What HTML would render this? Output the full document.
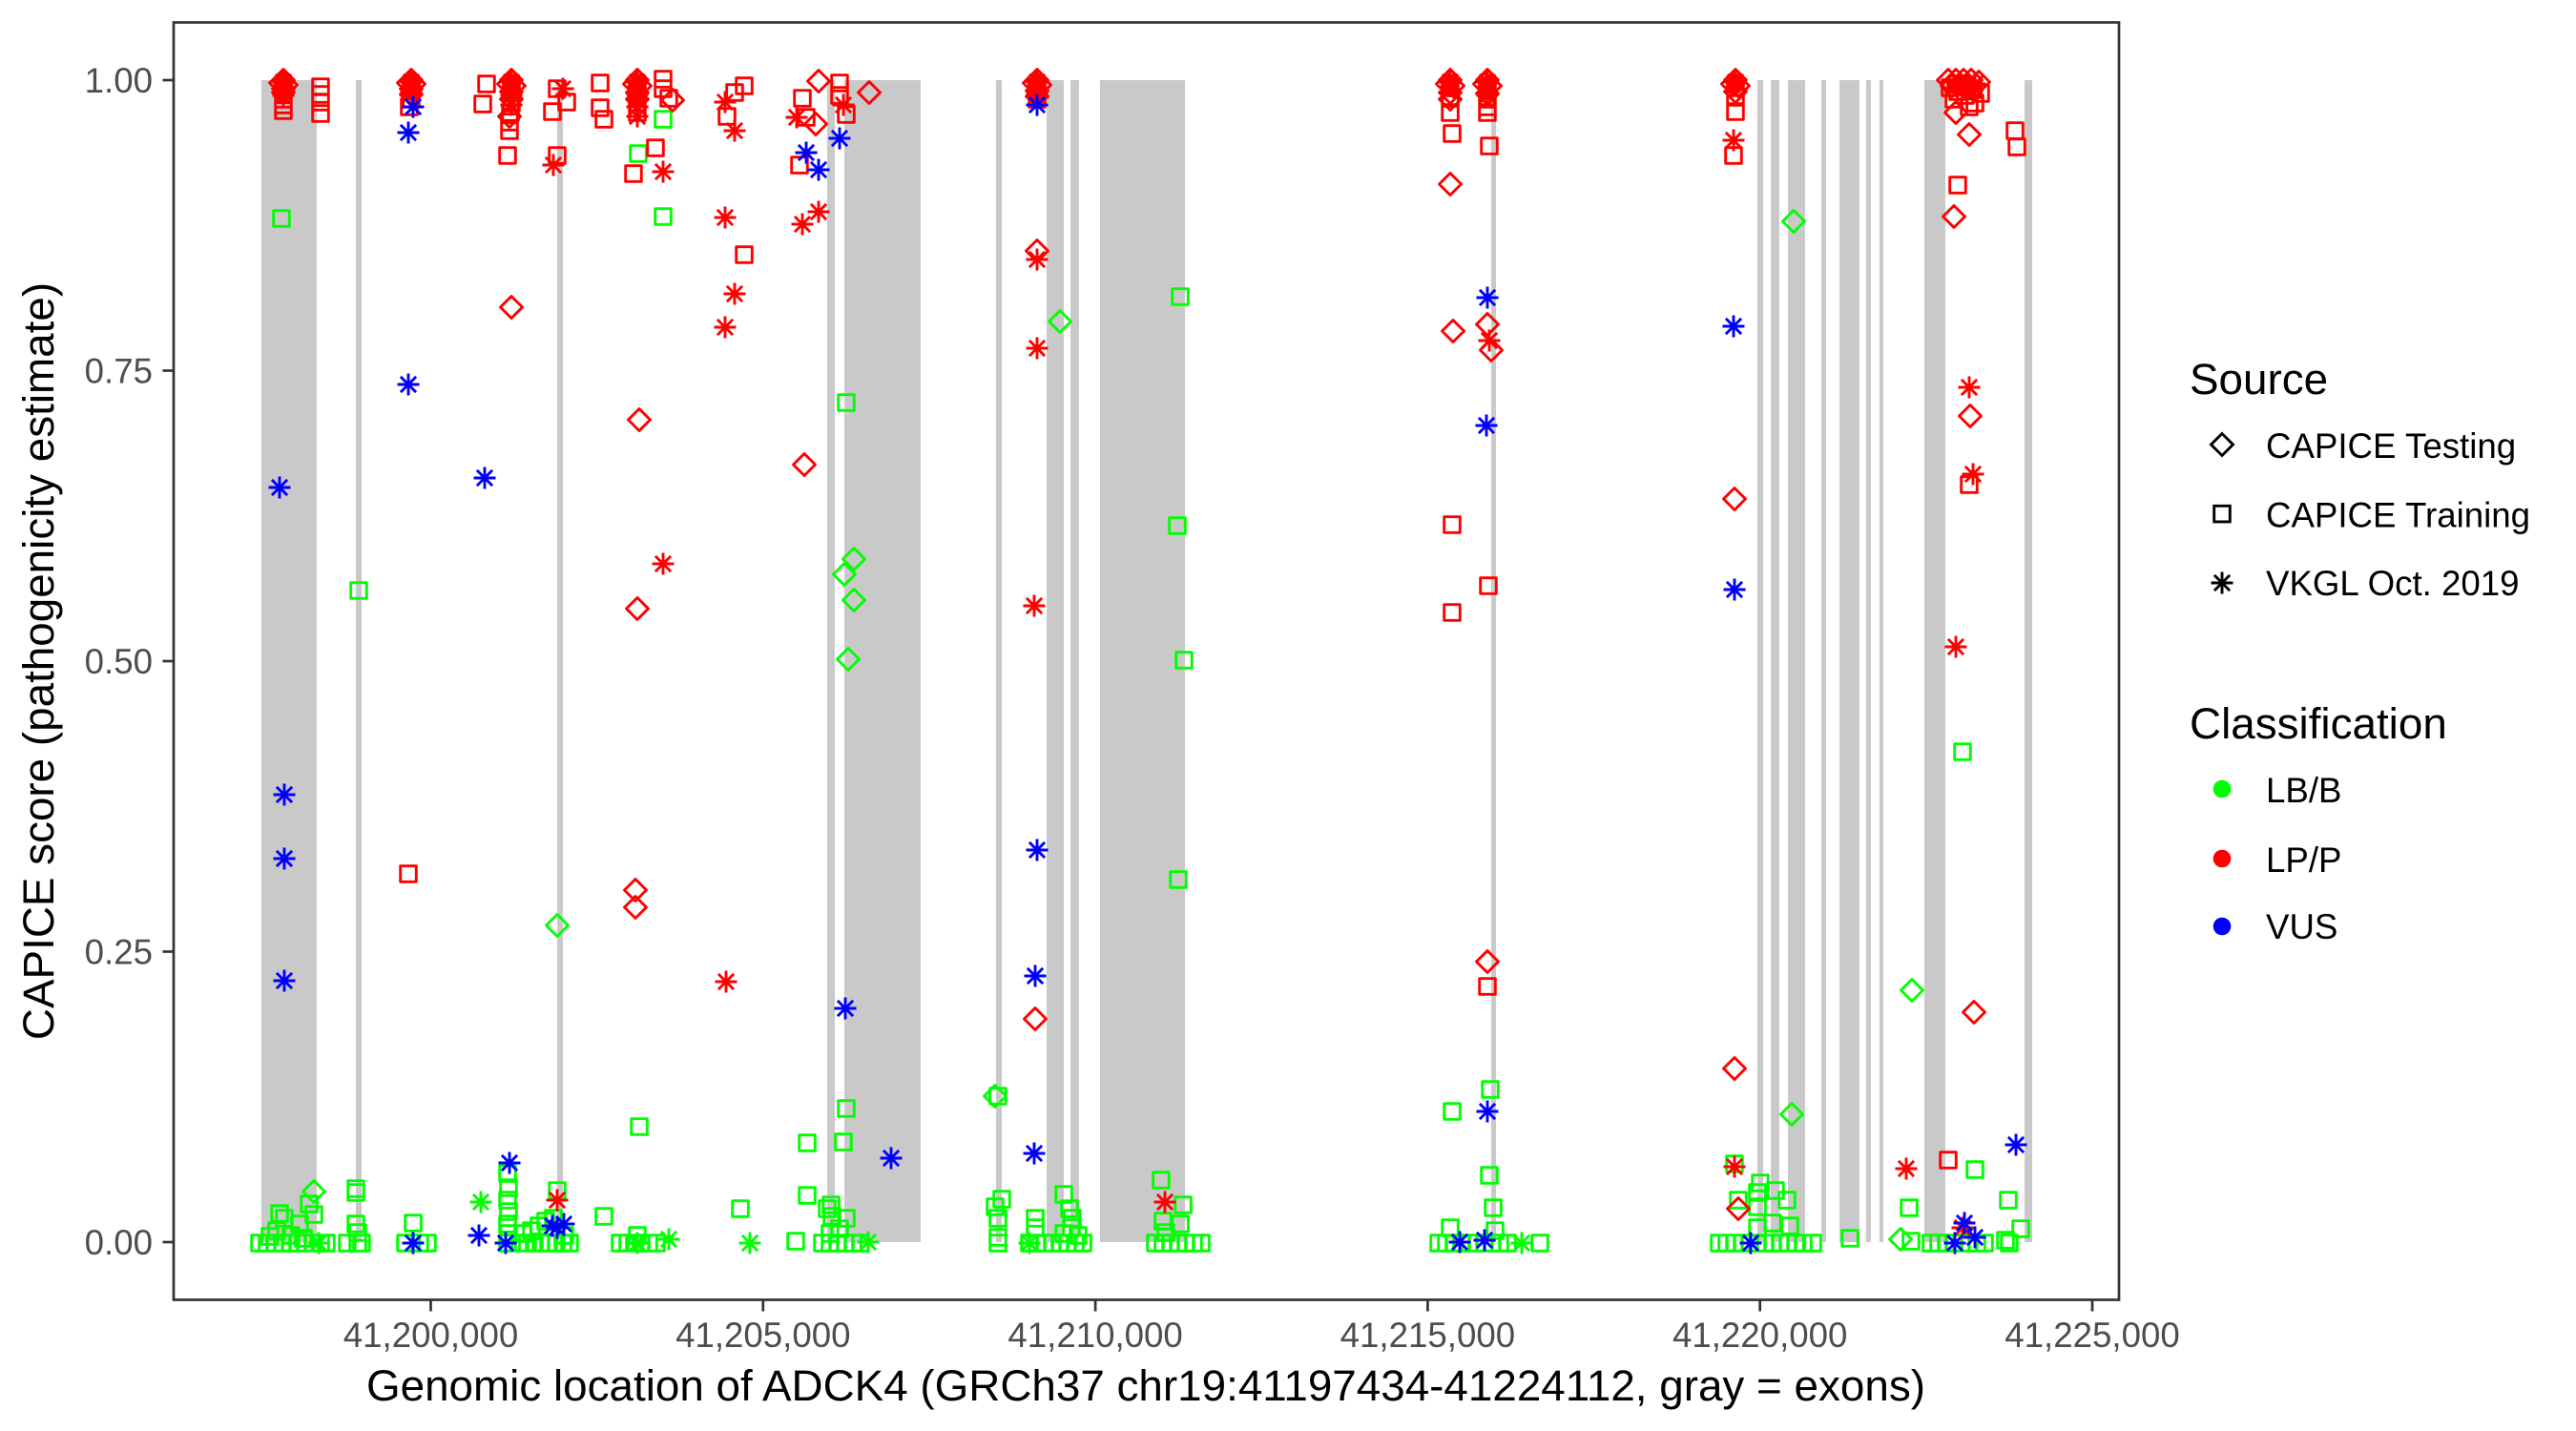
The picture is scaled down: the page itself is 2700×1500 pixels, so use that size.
<!DOCTYPE html>
<html><head><meta charset="utf-8"><style>
html,body{margin:0;padding:0;background:#fff}
svg{display:block}
text{font-family:"Liberation Sans",Arial,sans-serif}
</style></head><body>
<svg width="2700" height="1500" viewBox="0 0 2700 1500" xmlns="http://www.w3.org/2000/svg">
<rect x="0" y="0" width="2700" height="1500" fill="#fff"/>
<!-- exon bands -->
<g fill="#c9c9c9">
<rect x="274" y="84" width="58" height="1218"/>
<rect x="373" y="84" width="6" height="1218"/>
<rect x="584" y="84" width="6" height="1218"/>
<rect x="867" y="84" width="8" height="1218"/>
<rect x="885" y="84" width="80" height="1218"/>
<rect x="1044" y="84" width="6" height="1218"/>
<rect x="1097" y="84" width="18" height="1218"/>
<rect x="1122" y="84" width="9" height="1218"/>
<rect x="1153" y="84" width="89" height="1218"/>
<rect x="1563" y="84" width="5" height="1218"/>
<rect x="1842" y="84" width="6" height="1218"/>
<rect x="1856" y="84" width="9" height="1218"/>
<rect x="1874" y="84" width="18" height="1218"/>
<rect x="1909" y="84" width="5" height="1218"/>
<rect x="1928" y="84" width="21" height="1218"/>
<rect x="1956" y="84" width="5" height="1218"/>
<rect x="1970" y="84" width="4" height="1218"/>
<rect x="2017" y="84" width="22" height="1218"/>
<rect x="2122" y="84" width="8" height="1218"/>
</g>
<g fill="none" stroke-width="2.9" stroke-linejoin="round">
<!-- green squares -->
<path stroke="#00ff00" d="M295 229m-8.3-8.3h16.6v16.6h-16.6z M695 125m-8.3-8.3h16.6v16.6h-16.6z M669 161m-8.3-8.3h16.6v16.6h-16.6z M695 227m-8.3-8.3h16.6v16.6h-16.6z M887 422m-8.3-8.3h16.6v16.6h-16.6z M376 619m-8.3-8.3h16.6v16.6h-16.6z M1237 311m-8.3-8.3h16.6v16.6h-16.6z M1234 551m-8.3-8.3h16.6v16.6h-16.6z M1241 692m-8.3-8.3h16.6v16.6h-16.6z M1235 922m-8.3-8.3h16.6v16.6h-16.6z M2057 788m-8.3-8.3h16.6v16.6h-16.6z M1562 1142m-8.3-8.3h16.6v16.6h-16.6z M1046 1149m-8.3-8.3h16.6v16.6h-16.6z M887 1162m-8.3-8.3h16.6v16.6h-16.6z
M272 1303m-8.3-8.3h16.6v16.6h-16.6z M280 1303m-8.3-8.3h16.6v16.6h-16.6z M288 1303m-8.3-8.3h16.6v16.6h-16.6z M296 1303m-8.3-8.3h16.6v16.6h-16.6z M304 1303m-8.3-8.3h16.6v16.6h-16.6z M312 1303m-8.3-8.3h16.6v16.6h-16.6z M320 1303m-8.3-8.3h16.6v16.6h-16.6z M328 1303m-8.3-8.3h16.6v16.6h-16.6z M336 1303m-8.3-8.3h16.6v16.6h-16.6z M342 1303m-8.3-8.3h16.6v16.6h-16.6z
M293 1272m-8.3-8.3h16.6v16.6h-16.6z M298 1277m-8.3-8.3h16.6v16.6h-16.6z M314 1283m-8.3-8.3h16.6v16.6h-16.6z M324 1262m-8.3-8.3h16.6v16.6h-16.6z M329 1273m-8.3-8.3h16.6v16.6h-16.6z M290 1290m-8.3-8.3h16.6v16.6h-16.6z M305 1295m-8.3-8.3h16.6v16.6h-16.6z M318 1298m-8.3-8.3h16.6v16.6h-16.6z M283 1296m-8.3-8.3h16.6v16.6h-16.6z
M373 1246m-8.3-8.3h16.6v16.6h-16.6z M373 1250m-8.3-8.3h16.6v16.6h-16.6z M373 1283m-8.3-8.3h16.6v16.6h-16.6z M375 1292m-8.3-8.3h16.6v16.6h-16.6z M364 1303m-8.3-8.3h16.6v16.6h-16.6z M375 1303m-8.3-8.3h16.6v16.6h-16.6z M379 1303m-8.3-8.3h16.6v16.6h-16.6z
M433 1282m-8.3-8.3h16.6v16.6h-16.6z M425 1303m-8.3-8.3h16.6v16.6h-16.6z M440 1303m-8.3-8.3h16.6v16.6h-16.6z M448 1303m-8.3-8.3h16.6v16.6h-16.6z
M532 1230m-8.3-8.3h16.6v16.6h-16.6z M533 1245m-8.3-8.3h16.6v16.6h-16.6z M532 1258m-8.3-8.3h16.6v16.6h-16.6z M533 1270m-8.3-8.3h16.6v16.6h-16.6z M532 1283m-8.3-8.3h16.6v16.6h-16.6z M533 1293m-8.3-8.3h16.6v16.6h-16.6z M532 1303m-8.3-8.3h16.6v16.6h-16.6z
M545 1303m-8.3-8.3h16.6v16.6h-16.6z M553 1303m-8.3-8.3h16.6v16.6h-16.6z M560 1303m-8.3-8.3h16.6v16.6h-16.6z M567 1303m-8.3-8.3h16.6v16.6h-16.6z M575 1303m-8.3-8.3h16.6v16.6h-16.6z M583 1303m-8.3-8.3h16.6v16.6h-16.6z M590 1303m-8.3-8.3h16.6v16.6h-16.6z M597 1303m-8.3-8.3h16.6v16.6h-16.6z M557 1290m-8.3-8.3h16.6v16.6h-16.6z M565 1285m-8.3-8.3h16.6v16.6h-16.6z M572 1280m-8.3-8.3h16.6v16.6h-16.6z M580 1277m-8.3-8.3h16.6v16.6h-16.6z M592 1295m-8.3-8.3h16.6v16.6h-16.6z M548 1293m-8.3-8.3h16.6v16.6h-16.6z M584 1248m-8.3-8.3h16.6v16.6h-16.6z
M670 1181m-8.3-8.3h16.6v16.6h-16.6z M633 1275m-8.3-8.3h16.6v16.6h-16.6z
M650 1303m-8.3-8.3h16.6v16.6h-16.6z M658 1303m-8.3-8.3h16.6v16.6h-16.6z M665 1303m-8.3-8.3h16.6v16.6h-16.6z M672 1303m-8.3-8.3h16.6v16.6h-16.6z M680 1303m-8.3-8.3h16.6v16.6h-16.6z M688 1303m-8.3-8.3h16.6v16.6h-16.6z M668 1295m-8.3-8.3h16.6v16.6h-16.6z
M776 1267m-8.3-8.3h16.6v16.6h-16.6z M834 1301m-8.3-8.3h16.6v16.6h-16.6z
M846 1198m-8.3-8.3h16.6v16.6h-16.6z M846 1253m-8.3-8.3h16.6v16.6h-16.6z M884 1197m-8.3-8.3h16.6v16.6h-16.6z M871 1263m-8.3-8.3h16.6v16.6h-16.6z M867 1267m-8.3-8.3h16.6v16.6h-16.6z M872 1275m-8.3-8.3h16.6v16.6h-16.6z M887 1277m-8.3-8.3h16.6v16.6h-16.6z
M862 1303m-8.3-8.3h16.6v16.6h-16.6z M870 1303m-8.3-8.3h16.6v16.6h-16.6z M878 1303m-8.3-8.3h16.6v16.6h-16.6z M886 1303m-8.3-8.3h16.6v16.6h-16.6z M894 1303m-8.3-8.3h16.6v16.6h-16.6z M902 1303m-8.3-8.3h16.6v16.6h-16.6z M870 1293m-8.3-8.3h16.6v16.6h-16.6z M880 1288m-8.3-8.3h16.6v16.6h-16.6z
M1050 1257m-8.3-8.3h16.6v16.6h-16.6z M1043 1265m-8.3-8.3h16.6v16.6h-16.6z M1046 1277m-8.3-8.3h16.6v16.6h-16.6z M1046 1297m-8.3-8.3h16.6v16.6h-16.6z M1046 1303m-8.3-8.3h16.6v16.6h-16.6z
M1115 1252m-8.3-8.3h16.6v16.6h-16.6z M1085 1277m-8.3-8.3h16.6v16.6h-16.6z M1085 1287m-8.3-8.3h16.6v16.6h-16.6z M1121 1267m-8.3-8.3h16.6v16.6h-16.6z M1124 1277m-8.3-8.3h16.6v16.6h-16.6z M1123 1287m-8.3-8.3h16.6v16.6h-16.6z M1079 1303m-8.3-8.3h16.6v16.6h-16.6z M1087 1303m-8.3-8.3h16.6v16.6h-16.6z M1095 1303m-8.3-8.3h16.6v16.6h-16.6z M1103 1303m-8.3-8.3h16.6v16.6h-16.6z M1111 1303m-8.3-8.3h16.6v16.6h-16.6z M1119 1303m-8.3-8.3h16.6v16.6h-16.6z M1127 1303m-8.3-8.3h16.6v16.6h-16.6z M1135 1303m-8.3-8.3h16.6v16.6h-16.6z M1115 1293m-8.3-8.3h16.6v16.6h-16.6z M1130 1295m-8.3-8.3h16.6v16.6h-16.6z
M1217 1237m-8.3-8.3h16.6v16.6h-16.6z M1240 1263m-8.3-8.3h16.6v16.6h-16.6z M1219 1280m-8.3-8.3h16.6v16.6h-16.6z M1237 1283m-8.3-8.3h16.6v16.6h-16.6z M1222 1292m-8.3-8.3h16.6v16.6h-16.6z M1211 1303m-8.3-8.3h16.6v16.6h-16.6z M1219 1303m-8.3-8.3h16.6v16.6h-16.6z M1227 1303m-8.3-8.3h16.6v16.6h-16.6z M1235 1303m-8.3-8.3h16.6v16.6h-16.6z M1243 1303m-8.3-8.3h16.6v16.6h-16.6z M1251 1303m-8.3-8.3h16.6v16.6h-16.6z M1259 1303m-8.3-8.3h16.6v16.6h-16.6z
M1522 1165m-8.3-8.3h16.6v16.6h-16.6z M1561 1232m-8.3-8.3h16.6v16.6h-16.6z M1565 1266m-8.3-8.3h16.6v16.6h-16.6z M1520 1287m-8.3-8.3h16.6v16.6h-16.6z M1567 1290m-8.3-8.3h16.6v16.6h-16.6z M1508 1303m-8.3-8.3h16.6v16.6h-16.6z M1516 1303m-8.3-8.3h16.6v16.6h-16.6z M1524 1303m-8.3-8.3h16.6v16.6h-16.6z M1532 1303m-8.3-8.3h16.6v16.6h-16.6z M1540 1303m-8.3-8.3h16.6v16.6h-16.6z M1548 1303m-8.3-8.3h16.6v16.6h-16.6z M1556 1303m-8.3-8.3h16.6v16.6h-16.6z M1564 1303m-8.3-8.3h16.6v16.6h-16.6z M1572 1303m-8.3-8.3h16.6v16.6h-16.6z M1580 1303m-8.3-8.3h16.6v16.6h-16.6z M1614 1303m-8.3-8.3h16.6v16.6h-16.6z
M1818 1220m-8.3-8.3h16.6v16.6h-16.6z M1822 1258m-8.3-8.3h16.6v16.6h-16.6z M1845 1240m-8.3-8.3h16.6v16.6h-16.6z M1861 1248m-8.3-8.3h16.6v16.6h-16.6z M1842 1250m-8.3-8.3h16.6v16.6h-16.6z M1873 1258m-8.3-8.3h16.6v16.6h-16.6z M1842 1265m-8.3-8.3h16.6v16.6h-16.6z M1858 1282m-8.3-8.3h16.6v16.6h-16.6z M1876 1285m-8.3-8.3h16.6v16.6h-16.6z M1842 1287m-8.3-8.3h16.6v16.6h-16.6z M1802 1303m-8.3-8.3h16.6v16.6h-16.6z M1810 1303m-8.3-8.3h16.6v16.6h-16.6z M1818 1303m-8.3-8.3h16.6v16.6h-16.6z M1826 1303m-8.3-8.3h16.6v16.6h-16.6z M1834 1303m-8.3-8.3h16.6v16.6h-16.6z M1842 1303m-8.3-8.3h16.6v16.6h-16.6z M1850 1303m-8.3-8.3h16.6v16.6h-16.6z M1858 1303m-8.3-8.3h16.6v16.6h-16.6z M1866 1303m-8.3-8.3h16.6v16.6h-16.6z M1874 1303m-8.3-8.3h16.6v16.6h-16.6z M1882 1303m-8.3-8.3h16.6v16.6h-16.6z M1890 1303m-8.3-8.3h16.6v16.6h-16.6z M1900 1303m-8.3-8.3h16.6v16.6h-16.6z
M1939 1298m-8.3-8.3h16.6v16.6h-16.6z M2001 1266m-8.3-8.3h16.6v16.6h-16.6z M2003 1301m-8.3-8.3h16.6v16.6h-16.6z M2070 1226m-8.3-8.3h16.6v16.6h-16.6z
M2024 1303m-8.3-8.3h16.6v16.6h-16.6z M2032 1303m-8.3-8.3h16.6v16.6h-16.6z M2040 1303m-8.3-8.3h16.6v16.6h-16.6z M2048 1303m-8.3-8.3h16.6v16.6h-16.6z M2056 1303m-8.3-8.3h16.6v16.6h-16.6z M2064 1303m-8.3-8.3h16.6v16.6h-16.6z M2072 1303m-8.3-8.3h16.6v16.6h-16.6z M2080 1303m-8.3-8.3h16.6v16.6h-16.6z
M2105 1258m-8.3-8.3h16.6v16.6h-16.6z M2118 1288m-8.3-8.3h16.6v16.6h-16.6z M2102 1300m-8.3-8.3h16.6v16.6h-16.6z M2106 1303m-8.3-8.3h16.6v16.6h-16.6z"/>
<!-- green diamonds -->
<path stroke="#00ff00" d="M1111 337m0-11.5l11.5 11.5-11.5 11.5-11.5-11.5z M895 586m0-11.5l11.5 11.5-11.5 11.5-11.5-11.5z M885 602m0-11.5l11.5 11.5-11.5 11.5-11.5-11.5z M895 629m0-11.5l11.5 11.5-11.5 11.5-11.5-11.5z M889 691m0-11.5l11.5 11.5-11.5 11.5-11.5-11.5z M584 970m0-11.5l11.5 11.5-11.5 11.5-11.5-11.5z M1880 232m0-11.5l11.5 11.5-11.5 11.5-11.5-11.5z M2004 1038m0-11.5l11.5 11.5-11.5 11.5-11.5-11.5z M1043 1149m0-11.5l11.5 11.5-11.5 11.5-11.5-11.5z M329 1249m0-11.5l11.5 11.5-11.5 11.5-11.5-11.5z M1878 1168m0-11.5l11.5 11.5-11.5 11.5-11.5-11.5z M1992 1299m0-11.5l11.5 11.5-11.5 11.5-11.5-11.5z"/>
<!-- green asterisks -->
<path stroke="#00ff00" d="M334 1303m-11.5 0h23m-11.5-11.5v23m-8.1-19.6l16.2 16.2m0-16.2l-16.2 16.2 M504 1260m-11.5 0h23m-11.5-11.5v23m-8.1-19.6l16.2 16.2m0-16.2l-16.2 16.2 M701 1299m-11.5 0h23m-11.5-11.5v23m-8.1-19.6l16.2 16.2m0-16.2l-16.2 16.2 M786 1303m-11.5 0h23m-11.5-11.5v23m-8.1-19.6l16.2 16.2m0-16.2l-16.2 16.2 M910 1302m-11.5 0h23m-11.5-11.5v23m-8.1-19.6l16.2 16.2m0-16.2l-16.2 16.2 M1079 1303m-11.5 0h23m-11.5-11.5v23m-8.1-19.6l16.2 16.2m0-16.2l-16.2 16.2 M1595 1303m-11.5 0h23m-11.5-11.5v23m-8.1-19.6l16.2 16.2m0-16.2l-16.2 16.2 M668 1303m-11.5 0h23m-11.5-11.5v23m-8.1-19.6l16.2 16.2m0-16.2l-16.2 16.2"/>
</g>
<!-- solid cores of dense red clusters -->
<g fill="#ff0000">
<ellipse cx="297" cy="89" rx="10" ry="13"/>
<ellipse cx="431" cy="90" rx="9" ry="13"/>
<ellipse cx="536" cy="92" rx="9" ry="14"/>
<ellipse cx="668" cy="92" rx="9" ry="14"/>
<ellipse cx="1087" cy="90" rx="9" ry="13"/>
<ellipse cx="1520" cy="90" rx="8" ry="12"/>
<ellipse cx="1559" cy="92" rx="9" ry="13"/>
<ellipse cx="1819" cy="88" rx="8" ry="11"/>
<ellipse cx="2058" cy="90" rx="18" ry="11"/>
</g>
<g fill="none" stroke-width="2.9" stroke-linejoin="round">
<!-- red squares -->
<path stroke="#ff0000" d="M297 110m-8.3-8.3h16.6v16.6h-16.6z M297 116m-8.3-8.3h16.6v16.6h-16.6z M336 91m-8.3-8.3h16.6v16.6h-16.6z M336 99m-8.3-8.3h16.6v16.6h-16.6z M336 107m-8.3-8.3h16.6v16.6h-16.6z M336 119m-8.3-8.3h16.6v16.6h-16.6z M297 90m-8.3-8.3h16.6v16.6h-16.6z M297 104m-8.3-8.3h16.6v16.6h-16.6z
M431 91m-8.3-8.3h16.6v16.6h-16.6z M431 104m-8.3-8.3h16.6v16.6h-16.6z M429 112m-8.3-8.3h16.6v16.6h-16.6z
M510 88m-8.3-8.3h16.6v16.6h-16.6z M506 109m-8.3-8.3h16.6v16.6h-16.6z M532 163m-8.3-8.3h16.6v16.6h-16.6z M534 137m-8.3-8.3h16.6v16.6h-16.6z M536 92m-8.3-8.3h16.6v16.6h-16.6z M536 108m-8.3-8.3h16.6v16.6h-16.6z M535 118m-8.3-8.3h16.6v16.6h-16.6z M534 128m-8.3-8.3h16.6v16.6h-16.6z
M584 93m-8.3-8.3h16.6v16.6h-16.6z M594 107m-8.3-8.3h16.6v16.6h-16.6z M579 117m-8.3-8.3h16.6v16.6h-16.6z M584 163m-8.3-8.3h16.6v16.6h-16.6z
M629 87m-8.3-8.3h16.6v16.6h-16.6z M629 113m-8.3-8.3h16.6v16.6h-16.6z M633 125m-8.3-8.3h16.6v16.6h-16.6z M695 83m-8.3-8.3h16.6v16.6h-16.6z M695 93m-8.3-8.3h16.6v16.6h-16.6z M701 103m-8.3-8.3h16.6v16.6h-16.6z M687 155m-8.3-8.3h16.6v16.6h-16.6z M664 182m-8.3-8.3h16.6v16.6h-16.6z M668 93m-8.3-8.3h16.6v16.6h-16.6z M668 108m-8.3-8.3h16.6v16.6h-16.6z M668 118m-8.3-8.3h16.6v16.6h-16.6z
M780 90m-8.3-8.3h16.6v16.6h-16.6z M770 97m-8.3-8.3h16.6v16.6h-16.6z M762 122m-8.3-8.3h16.6v16.6h-16.6z M780 267m-8.3-8.3h16.6v16.6h-16.6z
M841 103m-8.3-8.3h16.6v16.6h-16.6z M845 123m-8.3-8.3h16.6v16.6h-16.6z M838 173m-8.3-8.3h16.6v16.6h-16.6z M880 87m-8.3-8.3h16.6v16.6h-16.6z M880 100m-8.3-8.3h16.6v16.6h-16.6z M887 120m-8.3-8.3h16.6v16.6h-16.6z
M1087 92m-8.3-8.3h16.6v16.6h-16.6z M1087 104m-8.3-8.3h16.6v16.6h-16.6z
M428 916m-8.3-8.3h16.6v16.6h-16.6z
M1520 92m-8.3-8.3h16.6v16.6h-16.6z M1520 103m-8.3-8.3h16.6v16.6h-16.6z M1520 118m-8.3-8.3h16.6v16.6h-16.6z M1522 140m-8.3-8.3h16.6v16.6h-16.6z
M1559 92m-8.3-8.3h16.6v16.6h-16.6z M1559 104m-8.3-8.3h16.6v16.6h-16.6z M1559 112m-8.3-8.3h16.6v16.6h-16.6z M1559 118m-8.3-8.3h16.6v16.6h-16.6z M1561 153m-8.3-8.3h16.6v16.6h-16.6z
M1819 92m-8.3-8.3h16.6v16.6h-16.6z M1819 102m-8.3-8.3h16.6v16.6h-16.6z M1819 117m-8.3-8.3h16.6v16.6h-16.6z M1817 163m-8.3-8.3h16.6v16.6h-16.6z
M2044 92m-8.3-8.3h16.6v16.6h-16.6z M2052 96m-8.3-8.3h16.6v16.6h-16.6z M2060 100m-8.3-8.3h16.6v16.6h-16.6z M2068 94m-8.3-8.3h16.6v16.6h-16.6z M2076 98m-8.3-8.3h16.6v16.6h-16.6z M2048 104m-8.3-8.3h16.6v16.6h-16.6z M2070 108m-8.3-8.3h16.6v16.6h-16.6z M2064 112m-8.3-8.3h16.6v16.6h-16.6z
M2052 194m-8.3-8.3h16.6v16.6h-16.6z M2112 137m-8.3-8.3h16.6v16.6h-16.6z M2114 154m-8.3-8.3h16.6v16.6h-16.6z
M1522 550m-8.3-8.3h16.6v16.6h-16.6z M1560 614m-8.3-8.3h16.6v16.6h-16.6z M1522 642m-8.3-8.3h16.6v16.6h-16.6z M2064 508m-8.3-8.3h16.6v16.6h-16.6z M1559 1034m-8.3-8.3h16.6v16.6h-16.6z M2042 1216m-8.3-8.3h16.6v16.6h-16.6z"/>
<!-- red diamonds -->
<path stroke="#ff0000" d="M297 84m0-11.5l11.5 11.5-11.5 11.5-11.5-11.5z M294 87m0-11.5l11.5 11.5-11.5 11.5-11.5-11.5z M300 89m0-11.5l11.5 11.5-11.5 11.5-11.5-11.5z M297 93m0-11.5l11.5 11.5-11.5 11.5-11.5-11.5z M297 97m0-11.5l11.5 11.5-11.5 11.5-11.5-11.5z
M431 84m0-11.5l11.5 11.5-11.5 11.5-11.5-11.5z M428 87m0-11.5l11.5 11.5-11.5 11.5-11.5-11.5z M434 88m0-11.5l11.5 11.5-11.5 11.5-11.5-11.5z M431 93m0-11.5l11.5 11.5-11.5 11.5-11.5-11.5z M431 99m0-11.5l11.5 11.5-11.5 11.5-11.5-11.5z
M536 84m0-11.5l11.5 11.5-11.5 11.5-11.5-11.5z M533 88m0-11.5l11.5 11.5-11.5 11.5-11.5-11.5z M539 90m0-11.5l11.5 11.5-11.5 11.5-11.5-11.5z M536 96m0-11.5l11.5 11.5-11.5 11.5-11.5-11.5z M536 104m0-11.5l11.5 11.5-11.5 11.5-11.5-11.5z M534 122m0-11.5l11.5 11.5-11.5 11.5-11.5-11.5z M536 322m0-11.5l11.5 11.5-11.5 11.5-11.5-11.5z
M668 84m0-11.5l11.5 11.5-11.5 11.5-11.5-11.5z M665 88m0-11.5l11.5 11.5-11.5 11.5-11.5-11.5z M671 90m0-11.5l11.5 11.5-11.5 11.5-11.5-11.5z M668 97m0-11.5l11.5 11.5-11.5 11.5-11.5-11.5z M668 104m0-11.5l11.5 11.5-11.5 11.5-11.5-11.5z
M705 105m0-11.5l11.5 11.5-11.5 11.5-11.5-11.5z M858 85m0-11.5l11.5 11.5-11.5 11.5-11.5-11.5z M855 130m0-11.5l11.5 11.5-11.5 11.5-11.5-11.5z M911 97m0-11.5l11.5 11.5-11.5 11.5-11.5-11.5z
M1087 84m0-11.5l11.5 11.5-11.5 11.5-11.5-11.5z M1084 87m0-11.5l11.5 11.5-11.5 11.5-11.5-11.5z M1090 89m0-11.5l11.5 11.5-11.5 11.5-11.5-11.5z M1087 95m0-11.5l11.5 11.5-11.5 11.5-11.5-11.5z M1087 101m0-11.5l11.5 11.5-11.5 11.5-11.5-11.5z M1087 263m0-11.5l11.5 11.5-11.5 11.5-11.5-11.5z
M1520 84m0-11.5l11.5 11.5-11.5 11.5-11.5-11.5z M1517 88m0-11.5l11.5 11.5-11.5 11.5-11.5-11.5z M1523 90m0-11.5l11.5 11.5-11.5 11.5-11.5-11.5z M1520 97m0-11.5l11.5 11.5-11.5 11.5-11.5-11.5z M1520 104m0-11.5l11.5 11.5-11.5 11.5-11.5-11.5z M1520 193m0-11.5l11.5 11.5-11.5 11.5-11.5-11.5z M1523 347m0-11.5l11.5 11.5-11.5 11.5-11.5-11.5z
M1559 84m0-11.5l11.5 11.5-11.5 11.5-11.5-11.5z M1556 88m0-11.5l11.5 11.5-11.5 11.5-11.5-11.5z M1562 90m0-11.5l11.5 11.5-11.5 11.5-11.5-11.5z M1559 98m0-11.5l11.5 11.5-11.5 11.5-11.5-11.5z M1559 340m0-11.5l11.5 11.5-11.5 11.5-11.5-11.5z M1563 367m0-11.5l11.5 11.5-11.5 11.5-11.5-11.5z
M1819 84m0-11.5l11.5 11.5-11.5 11.5-11.5-11.5z M1816 88m0-11.5l11.5 11.5-11.5 11.5-11.5-11.5z M1822 90m0-11.5l11.5 11.5-11.5 11.5-11.5-11.5z M1819 96m0-11.5l11.5 11.5-11.5 11.5-11.5-11.5z
M2042 84m0-11.5l11.5 11.5-11.5 11.5-11.5-11.5z M2050 84m0-11.5l11.5 11.5-11.5 11.5-11.5-11.5z M2058 84m0-11.5l11.5 11.5-11.5 11.5-11.5-11.5z M2066 84m0-11.5l11.5 11.5-11.5 11.5-11.5-11.5z M2074 86m0-11.5l11.5 11.5-11.5 11.5-11.5-11.5z M2046 90m0-11.5l11.5 11.5-11.5 11.5-11.5-11.5z M2062 92m0-11.5l11.5 11.5-11.5 11.5-11.5-11.5z
M2050 118m0-11.5l11.5 11.5-11.5 11.5-11.5-11.5z M2064 141m0-11.5l11.5 11.5-11.5 11.5-11.5-11.5z M2048 227m0-11.5l11.5 11.5-11.5 11.5-11.5-11.5z
M670 440m0-11.5l11.5 11.5-11.5 11.5-11.5-11.5z M843 487m0-11.5l11.5 11.5-11.5 11.5-11.5-11.5z M668 638m0-11.5l11.5 11.5-11.5 11.5-11.5-11.5z M666 933m0-11.5l11.5 11.5-11.5 11.5-11.5-11.5z M666 951m0-11.5l11.5 11.5-11.5 11.5-11.5-11.5z M1085 1068m0-11.5l11.5 11.5-11.5 11.5-11.5-11.5z
M2065 436m0-11.5l11.5 11.5-11.5 11.5-11.5-11.5z M1818 523m0-11.5l11.5 11.5-11.5 11.5-11.5-11.5z M1559 1008m0-11.5l11.5 11.5-11.5 11.5-11.5-11.5z M2069 1061m0-11.5l11.5 11.5-11.5 11.5-11.5-11.5z M1818 1120m0-11.5l11.5 11.5-11.5 11.5-11.5-11.5z M1822 1267m0-11.5l11.5 11.5-11.5 11.5-11.5-11.5z"/>
<!-- red asterisks -->
<path stroke="#ff0000" d="M297 86m-11.5 0h23m-11.5-11.5v23m-8.1-19.6l16.2 16.2m0-16.2l-16.2 16.2 M297 94m-11.5 0h23m-11.5-11.5v23m-8.1-19.6l16.2 16.2m0-16.2l-16.2 16.2 M297 100m-11.5 0h23m-11.5-11.5v23m-8.1-19.6l16.2 16.2m0-16.2l-16.2 16.2
M431 86m-11.5 0h23m-11.5-11.5v23m-8.1-19.6l16.2 16.2m0-16.2l-16.2 16.2 M431 96m-11.5 0h23m-11.5-11.5v23m-8.1-19.6l16.2 16.2m0-16.2l-16.2 16.2
M536 86m-11.5 0h23m-11.5-11.5v23m-8.1-19.6l16.2 16.2m0-16.2l-16.2 16.2 M536 100m-11.5 0h23m-11.5-11.5v23m-8.1-19.6l16.2 16.2m0-16.2l-16.2 16.2 M536 110m-11.5 0h23m-11.5-11.5v23m-8.1-19.6l16.2 16.2m0-16.2l-16.2 16.2
M668 86m-11.5 0h23m-11.5-11.5v23m-8.1-19.6l16.2 16.2m0-16.2l-16.2 16.2 M668 99m-11.5 0h23m-11.5-11.5v23m-8.1-19.6l16.2 16.2m0-16.2l-16.2 16.2 M668 112m-11.5 0h23m-11.5-11.5v23m-8.1-19.6l16.2 16.2m0-16.2l-16.2 16.2 M668 122m-11.5 0h23m-11.5-11.5v23m-8.1-19.6l16.2 16.2m0-16.2l-16.2 16.2
M590 93m-11.5 0h23m-11.5-11.5v23m-8.1-19.6l16.2 16.2m0-16.2l-16.2 16.2 M580 173m-11.5 0h23m-11.5-11.5v23m-8.1-19.6l16.2 16.2m0-16.2l-16.2 16.2 M695 180m-11.5 0h23m-11.5-11.5v23m-8.1-19.6l16.2 16.2m0-16.2l-16.2 16.2
M760 107m-11.5 0h23m-11.5-11.5v23m-8.1-19.6l16.2 16.2m0-16.2l-16.2 16.2 M770 137m-11.5 0h23m-11.5-11.5v23m-8.1-19.6l16.2 16.2m0-16.2l-16.2 16.2 M760 228m-11.5 0h23m-11.5-11.5v23m-8.1-19.6l16.2 16.2m0-16.2l-16.2 16.2 M770 308m-11.5 0h23m-11.5-11.5v23m-8.1-19.6l16.2 16.2m0-16.2l-16.2 16.2 M760 343m-11.5 0h23m-11.5-11.5v23m-8.1-19.6l16.2 16.2m0-16.2l-16.2 16.2
M835 123m-11.5 0h23m-11.5-11.5v23m-8.1-19.6l16.2 16.2m0-16.2l-16.2 16.2 M884 110m-11.5 0h23m-11.5-11.5v23m-8.1-19.6l16.2 16.2m0-16.2l-16.2 16.2 M841 235m-11.5 0h23m-11.5-11.5v23m-8.1-19.6l16.2 16.2m0-16.2l-16.2 16.2 M858 222m-11.5 0h23m-11.5-11.5v23m-8.1-19.6l16.2 16.2m0-16.2l-16.2 16.2
M1087 86m-11.5 0h23m-11.5-11.5v23m-8.1-19.6l16.2 16.2m0-16.2l-16.2 16.2 M1087 98m-11.5 0h23m-11.5-11.5v23m-8.1-19.6l16.2 16.2m0-16.2l-16.2 16.2 M1087 272m-11.5 0h23m-11.5-11.5v23m-8.1-19.6l16.2 16.2m0-16.2l-16.2 16.2 M1087 365m-11.5 0h23m-11.5-11.5v23m-8.1-19.6l16.2 16.2m0-16.2l-16.2 16.2
M1520 86m-11.5 0h23m-11.5-11.5v23m-8.1-19.6l16.2 16.2m0-16.2l-16.2 16.2 M1559 86m-11.5 0h23m-11.5-11.5v23m-8.1-19.6l16.2 16.2m0-16.2l-16.2 16.2 M1559 100m-11.5 0h23m-11.5-11.5v23m-8.1-19.6l16.2 16.2m0-16.2l-16.2 16.2 M1561 357m-11.5 0h23m-11.5-11.5v23m-8.1-19.6l16.2 16.2m0-16.2l-16.2 16.2
M1819 86m-11.5 0h23m-11.5-11.5v23m-8.1-19.6l16.2 16.2m0-16.2l-16.2 16.2 M1817 147m-11.5 0h23m-11.5-11.5v23m-8.1-19.6l16.2 16.2m0-16.2l-16.2 16.2 M2054 86m-11.5 0h23m-11.5-11.5v23m-8.1-19.6l16.2 16.2m0-16.2l-16.2 16.2 M2070 88m-11.5 0h23m-11.5-11.5v23m-8.1-19.6l16.2 16.2m0-16.2l-16.2 16.2
M695 591m-11.5 0h23m-11.5-11.5v23m-8.1-19.6l16.2 16.2m0-16.2l-16.2 16.2 M1084 635m-11.5 0h23m-11.5-11.5v23m-8.1-19.6l16.2 16.2m0-16.2l-16.2 16.2 M761 1029m-11.5 0h23m-11.5-11.5v23m-8.1-19.6l16.2 16.2m0-16.2l-16.2 16.2
M2064 406m-11.5 0h23m-11.5-11.5v23m-8.1-19.6l16.2 16.2m0-16.2l-16.2 16.2 M2068 497m-11.5 0h23m-11.5-11.5v23m-8.1-19.6l16.2 16.2m0-16.2l-16.2 16.2 M2050 678m-11.5 0h23m-11.5-11.5v23m-8.1-19.6l16.2 16.2m0-16.2l-16.2 16.2
M584 1258m-11.5 0h23m-11.5-11.5v23m-8.1-19.6l16.2 16.2m0-16.2l-16.2 16.2 M1221 1260m-11.5 0h23m-11.5-11.5v23m-8.1-19.6l16.2 16.2m0-16.2l-16.2 16.2 M1818 1223m-11.5 0h23m-11.5-11.5v23m-8.1-19.6l16.2 16.2m0-16.2l-16.2 16.2 M1998 1225m-11.5 0h23m-11.5-11.5v23m-8.1-19.6l16.2 16.2m0-16.2l-16.2 16.2 M2057 1287m-11.5 0h23m-11.5-11.5v23m-8.1-19.6l16.2 16.2m0-16.2l-16.2 16.2"/>
<!-- blue asterisks -->
<path stroke="#0000ff" d="M433 112m-11.5 0h23m-11.5-11.5v23m-8.1-19.6l16.2 16.2m0-16.2l-16.2 16.2 M428 139m-11.5 0h23m-11.5-11.5v23m-8.1-19.6l16.2 16.2m0-16.2l-16.2 16.2 M880 145m-11.5 0h23m-11.5-11.5v23m-8.1-19.6l16.2 16.2m0-16.2l-16.2 16.2 M845 160m-11.5 0h23m-11.5-11.5v23m-8.1-19.6l16.2 16.2m0-16.2l-16.2 16.2 M858 178m-11.5 0h23m-11.5-11.5v23m-8.1-19.6l16.2 16.2m0-16.2l-16.2 16.2 M1087 110m-11.5 0h23m-11.5-11.5v23m-8.1-19.6l16.2 16.2m0-16.2l-16.2 16.2
M428 403m-11.5 0h23m-11.5-11.5v23m-8.1-19.6l16.2 16.2m0-16.2l-16.2 16.2 M293 511m-11.5 0h23m-11.5-11.5v23m-8.1-19.6l16.2 16.2m0-16.2l-16.2 16.2 M508 501m-11.5 0h23m-11.5-11.5v23m-8.1-19.6l16.2 16.2m0-16.2l-16.2 16.2 M298 833m-11.5 0h23m-11.5-11.5v23m-8.1-19.6l16.2 16.2m0-16.2l-16.2 16.2 M298 900m-11.5 0h23m-11.5-11.5v23m-8.1-19.6l16.2 16.2m0-16.2l-16.2 16.2 M298 1028m-11.5 0h23m-11.5-11.5v23m-8.1-19.6l16.2 16.2m0-16.2l-16.2 16.2 M1087 891m-11.5 0h23m-11.5-11.5v23m-8.1-19.6l16.2 16.2m0-16.2l-16.2 16.2 M1085 1023m-11.5 0h23m-11.5-11.5v23m-8.1-19.6l16.2 16.2m0-16.2l-16.2 16.2 M886 1057m-11.5 0h23m-11.5-11.5v23m-8.1-19.6l16.2 16.2m0-16.2l-16.2 16.2
M1559 312m-11.5 0h23m-11.5-11.5v23m-8.1-19.6l16.2 16.2m0-16.2l-16.2 16.2 M1817 342m-11.5 0h23m-11.5-11.5v23m-8.1-19.6l16.2 16.2m0-16.2l-16.2 16.2 M1558 446m-11.5 0h23m-11.5-11.5v23m-8.1-19.6l16.2 16.2m0-16.2l-16.2 16.2 M1818 618m-11.5 0h23m-11.5-11.5v23m-8.1-19.6l16.2 16.2m0-16.2l-16.2 16.2
M433 1303m-11.5 0h23m-11.5-11.5v23m-8.1-19.6l16.2 16.2m0-16.2l-16.2 16.2 M502 1295m-11.5 0h23m-11.5-11.5v23m-8.1-19.6l16.2 16.2m0-16.2l-16.2 16.2 M534 1219m-11.5 0h23m-11.5-11.5v23m-8.1-19.6l16.2 16.2m0-16.2l-16.2 16.2 M530 1303m-11.5 0h23m-11.5-11.5v23m-8.1-19.6l16.2 16.2m0-16.2l-16.2 16.2 M579 1285m-11.5 0h23m-11.5-11.5v23m-8.1-19.6l16.2 16.2m0-16.2l-16.2 16.2 M591 1283m-11.5 0h23m-11.5-11.5v23m-8.1-19.6l16.2 16.2m0-16.2l-16.2 16.2 M584 1287m-11.5 0h23m-11.5-11.5v23m-8.1-19.6l16.2 16.2m0-16.2l-16.2 16.2 M934 1214m-11.5 0h23m-11.5-11.5v23m-8.1-19.6l16.2 16.2m0-16.2l-16.2 16.2 M1084 1209m-11.5 0h23m-11.5-11.5v23m-8.1-19.6l16.2 16.2m0-16.2l-16.2 16.2
M1559 1165m-11.5 0h23m-11.5-11.5v23m-8.1-19.6l16.2 16.2m0-16.2l-16.2 16.2 M1530 1302m-11.5 0h23m-11.5-11.5v23m-8.1-19.6l16.2 16.2m0-16.2l-16.2 16.2 M1556 1300m-11.5 0h23m-11.5-11.5v23m-8.1-19.6l16.2 16.2m0-16.2l-16.2 16.2 M1835 1303m-11.5 0h23m-11.5-11.5v23m-8.1-19.6l16.2 16.2m0-16.2l-16.2 16.2 M2059 1282m-11.5 0h23m-11.5-11.5v23m-8.1-19.6l16.2 16.2m0-16.2l-16.2 16.2 M2049 1303m-11.5 0h23m-11.5-11.5v23m-8.1-19.6l16.2 16.2m0-16.2l-16.2 16.2 M2070 1297m-11.5 0h23m-11.5-11.5v23m-8.1-19.6l16.2 16.2m0-16.2l-16.2 16.2 M2113 1200m-11.5 0h23m-11.5-11.5v23m-8.1-19.6l16.2 16.2m0-16.2l-16.2 16.2"/>
</g>
<!-- panel border -->
<rect x="182" y="23.5" width="2039" height="1339" fill="none" stroke="#333333" stroke-width="2.7"/>
<!-- ticks -->
<g stroke="#333333" stroke-width="2.7">
<line x1="170.5" y1="84" x2="182" y2="84"/>
<line x1="170.5" y1="388.5" x2="182" y2="388.5"/>
<line x1="170.5" y1="693" x2="182" y2="693"/>
<line x1="170.5" y1="997.5" x2="182" y2="997.5"/>
<line x1="170.5" y1="1302" x2="182" y2="1302"/>
<line x1="451.5" y1="1363" x2="451.5" y2="1374.5"/>
<line x1="799.8" y1="1363" x2="799.8" y2="1374.5"/>
<line x1="1148.1" y1="1363" x2="1148.1" y2="1374.5"/>
<line x1="1496.4" y1="1363" x2="1496.4" y2="1374.5"/>
<line x1="1844.7" y1="1363" x2="1844.7" y2="1374.5"/>
<line x1="2193" y1="1363" x2="2193" y2="1374.5"/>
</g>
<g font-size="36.67" fill="#4d4d4d">
<text x="160" y="97" text-anchor="end">1.00</text>
<text x="160" y="401.5" text-anchor="end">0.75</text>
<text x="160" y="706" text-anchor="end">0.50</text>
<text x="160" y="1010.5" text-anchor="end">0.25</text>
<text x="160" y="1315" text-anchor="end">0.00</text>
<text x="451.5" y="1412" text-anchor="middle">41,200,000</text>
<text x="799.8" y="1412" text-anchor="middle">41,205,000</text>
<text x="1148.1" y="1412" text-anchor="middle">41,210,000</text>
<text x="1496.4" y="1412" text-anchor="middle">41,215,000</text>
<text x="1844.7" y="1412" text-anchor="middle">41,220,000</text>
<text x="2193" y="1412" text-anchor="middle">41,225,000</text>
</g>
<text x="1201" y="1468" text-anchor="middle" font-size="45.8" fill="#000">Genomic location of ADCK4 (GRCh37 chr19:41197434-41224112, gray = exons)</text>
<text transform="translate(56,693) rotate(-90)" text-anchor="middle" font-size="45.8" fill="#000">CAPICE score (pathogenicity estimate)</text>
<!-- legend -->
<text x="2295" y="413" font-size="45.8" fill="#000">Source</text>
<g fill="none" stroke="#000" stroke-width="2.9">
<path d="M2329 466m0-11.5l11.5 11.5-11.5 11.5-11.5-11.5z"/>
<path d="M2329 538.6m-8.3-8.3h16.6v16.6h-16.6z"/>
<path d="M2329 611m-11.5 0h23m-11.5-11.5v23m-8.1-19.6l16.2 16.2m0-16.2l-16.2 16.2"/>
</g>
<g font-size="36.67" fill="#000">
<text x="2375" y="480">CAPICE Testing</text>
<text x="2375" y="552.5">CAPICE Training</text>
<text x="2375" y="624">VKGL Oct. 2019</text>
</g>
<text x="2295" y="774" font-size="45.8" fill="#000">Classification</text>
<circle cx="2329" cy="827" r="9.3" fill="#00ff00"/>
<circle cx="2329" cy="900" r="9.3" fill="#ff0000"/>
<circle cx="2329" cy="971" r="9.3" fill="#0000ff"/>
<g font-size="36.67" fill="#000">
<text x="2375" y="841">LB/B</text>
<text x="2375" y="914">LP/P</text>
<text x="2375" y="984">VUS</text>
</g>
</svg>
</body></html>
